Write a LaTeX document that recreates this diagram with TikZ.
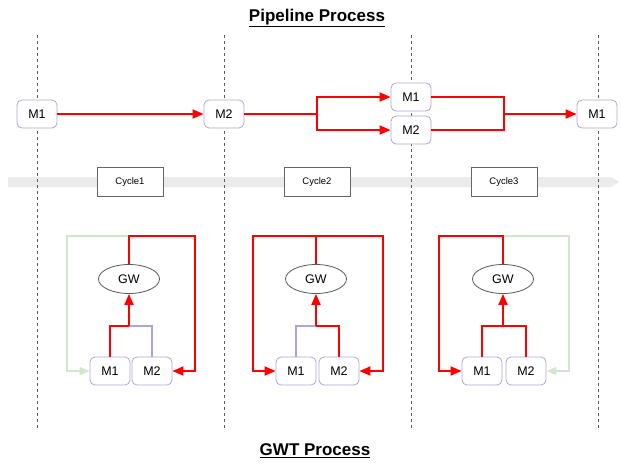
\documentclass[tikz,border=0pt]{standalone}
\usepackage{fontspec}
\setmainfont{Liberation Sans}
\usetikzlibrary{arrows.meta,shapes.geometric}
\definecolor{redc}{HTML}{FF0000}
\definecolor{purc}{HTML}{ACA6D8}
\definecolor{grnc}{HTML}{D2E6CF}
\definecolor{bandc}{HTML}{EBEBEB}
\tikzset{
  mbox/.style={draw=purc, line width=0.8pt, rounded corners=5pt, fill=white, minimum width=40pt, minimum height=28pt, inner sep=0pt, font=\fontsize{12.5}{14}\selectfont},
  cyc/.style={draw=black!60, line width=0.8pt, fill=white, minimum width=66pt, minimum height=29pt, inner sep=0pt, font=\fontsize{9.5}{11}\selectfont},
  gw/.style={draw=black!65, line width=0.8pt, ellipse, fill=white, minimum width=61pt, minimum height=29pt, inner sep=0pt, font=\fontsize{12.5}{14}\selectfont},
  redline/.style={draw=redc, line width=1.8pt, -{Triangle[length=11pt,width=9pt]}},
  redplain/.style={draw=redc, line width=1.8pt},
  purline/.style={draw=purc, line width=1.4pt},
  grnline/.style={draw=grnc, line width=1.4pt, -{Triangle[length=10pt,width=8pt]}},
  vdash/.style={draw=black!65, line width=0.6pt, dash pattern=on 3pt off 3pt},
  ttl/.style={font=\fontsize{17}{20}\selectfont\bfseries}
}
\begin{document}
\begin{tikzpicture}[x=1pt,y=-1pt]
\useasboundingbox (0,0) rectangle (621,464);
% band
\fill[bandc] (8,177) -- (611,177) -- (619,182) -- (611,187) -- (8,187) -- cycle;
% dashed lines
\foreach \xx/\nm in {37/a,224/b,411/c,598/d}{
  \coordinate (top\nm) at (\xx,35);
  \coordinate (bot\nm) at (\xx,430);
  \draw[vdash] (top\nm) -- (bot\nm);
}
% titles
\node[ttl] (title1) at (317,18) {\underline{Pipeline Process}};
\node[ttl] (title2) at (315,451) {\underline{GWT Process}};
% pipeline
\node[mbox] (pa) at (37,114) {M1};
\node[mbox] (pb) at (224,114) {M2};
\node[mbox] (pc) at (411,97) {M1};
\node[mbox] (pd) at (411,130) {M2};
\node[mbox] (pe) at (597,114) {M1};
\coordinate (split) at (317,114);
\coordinate (merge) at (504,114);
\draw[redline] (pa) -- (pb);
\draw[redplain] (pb) -- (split);
\draw[redline] (split) |- (pc.west);
\draw[redline] (split) |- (pd.west);
\draw[redplain] (pc.east) -| (merge);
\draw[redplain] (pd.east) -| (merge);
\draw[redline] (merge) -- (pe);
% cycles
\node[cyc] (c1) at (130,182) {Cycle1};
\node[cyc] (c2) at (317,182) {Cycle2};
\node[cyc] (c3) at (504,182) {Cycle3};
% group 1
\node[gw] (gw1) at (129,279) {GW};
\node[mbox] (g1a) at (110,371) {M1};
\node[mbox] (g1b) at (152,371) {M2};
\coordinate (g1t) at (129,236);
\coordinate (g1j) at (129,326);
\draw[grnline] (g1t) -| (67,371) -- (g1a.west);
\draw[redline] (gw1.north) |- (195,236) |- (g1b.east);
\draw[purline] (g1b.north) |- (g1j);
\draw[redplain] (g1a.north) |- (g1j);
\draw[redline] (g1j) -- (gw1.south);
% group 2
\node[gw] (gw2) at (316,279) {GW};
\node[mbox] (g2a) at (296,371) {M1};
\node[mbox] (g2b) at (339,371) {M2};
\coordinate (g2j) at (316,326);
\draw[redline] (gw2.north) |- (253,236) |- (g2a.west);
\draw[redline] (gw2.north) |- (383,236) |- (g2b.east);
\draw[purline] (g2a.north) |- (g2j);
\draw[redplain] (g2b.north) |- (g2j);
\draw[redline] (g2j) -- (gw2.south);
% group 3
\node[gw] (gw3) at (503,279) {GW};
\node[mbox] (g3a) at (482,371) {M1};
\node[mbox] (g3b) at (526,371) {M2};
\coordinate (g3t) at (503,236);
\coordinate (g3j) at (503,326);
\draw[grnline] (g3t) -| (569,371) -- (g3b.east);
\draw[redline] (gw3.north) |- (439,236) |- (g3a.west);
\draw[redplain] (g3a.north) |- (g3j);
\draw[redplain] (g3b.north) |- (g3j);
\draw[redline] (g3j) -- (gw3.south);
\end{tikzpicture}
\end{document}
